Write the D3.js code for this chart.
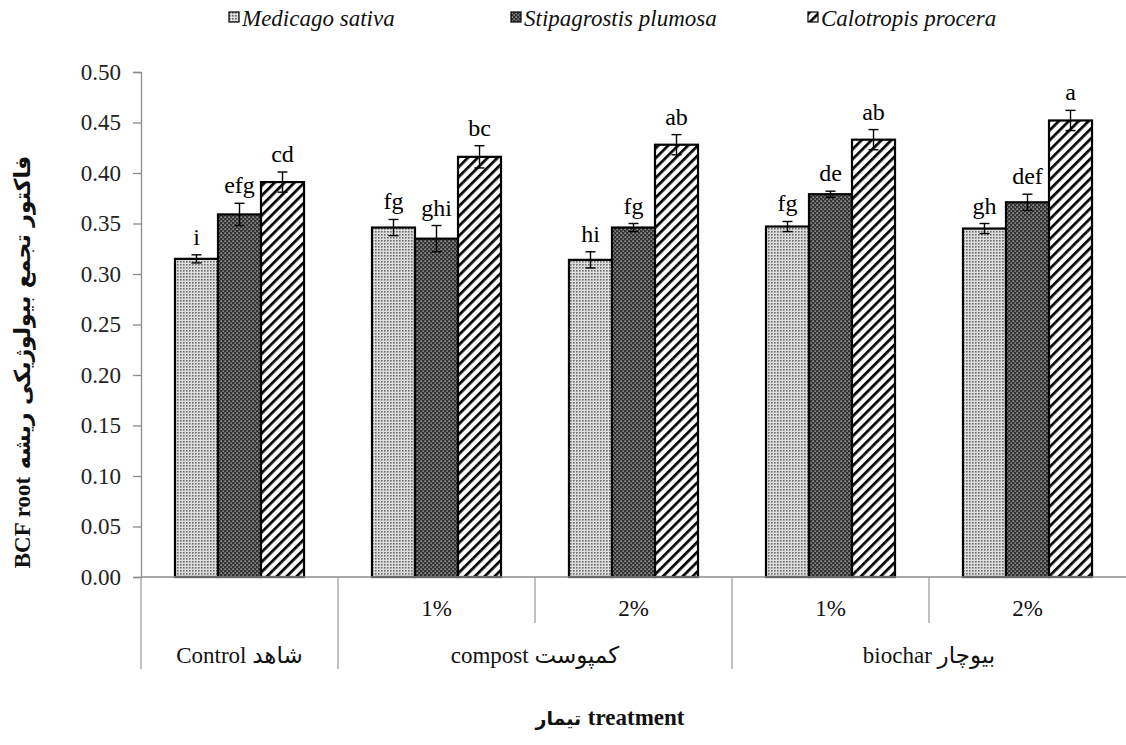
<!DOCTYPE html>
<html>
<head>
<meta charset="utf-8">
<script src="https://cdn.jsdelivr.net/npm/d3@7"></script>
<style>
body{margin:0;background:#fff;}
svg text{font-family:"Liberation Serif","DejaVu Serif","DejaVu Sans",serif;}
</style>
</head>
<body>
<svg id="chart" width="1126" height="745"></svg>
<script>
// ---- data ----
const series = ["Medicago sativa", "Stipagrostis plumosa", "Calotropis procera"];
const subCategories = ["Control", "compost 1%", "compost 2%", "biochar 1%", "biochar 2%"];
const subLabels = ["", "1%", "2%", "1%", "2%"];
const groupLabels = ["Control شاهد", "compost کمپوست", "biochar  بیوچار"];
const groupSpans = [1, 2, 2];
const medicago = [0.315, 0.346, 0.314, 0.347, 0.345];
const stipagrostis = [0.359, 0.335, 0.346, 0.379, 0.371];
const calotropis = [0.391, 0.416, 0.428, 0.433, 0.452];
const medicagoErr = [0.004, 0.008, 0.008, 0.005, 0.005];
const stipagrostisErr = [0.011, 0.013, 0.004, 0.003, 0.008];
const calotropisErr = [0.010, 0.011, 0.010, 0.010, 0.010];
const medicagoLetters = ["i", "fg", "hi", "fg", "gh"];
const stipagrostisLetters = ["efg", "ghi", "fg", "de", "def"];
const calotropisLetters = ["cd", "bc", "ab", "ab", "a"];
const yTicks = [0, 0.05, 0.10, 0.15, 0.20, 0.25, 0.30, 0.35, 0.40, 0.45, 0.50];
const yTitleLatin = "BCF root";
const yTitlePersian = " فاکتور تجمع بیولوژیکی ریشه";
const xTitlePersian = "تیمار ";
const xTitleLatin = "treatment";

const values = [medicago, stipagrostis, calotropis];
const errors = [medicagoErr, stipagrostisErr, calotropisErr];
const letters = [medicagoLetters, stipagrostisLetters, calotropisLetters];

// ---- layout ----
const svg = d3.select("#chart");
const plotL = 141, plotR = 1126, plotT = 72, plotB = 577;
const serif = "'Liberation Serif', 'DejaVu Serif', serif";
const y = d3.scaleLinear().domain([0, 0.5]).range([plotB, plotT]);
const x0 = d3.scaleBand().domain(subCategories).range([plotL, plotR]).paddingInner(0).paddingOuter(0);
const x1 = d3.scaleBand().domain(series).range([0, x0.bandwidth()]).paddingInner(0).paddingOuter(0.79);

// ---- patterns ----
const defs = svg.append("defs");
const p1 = defs.append("pattern").attr("id", "pMed").attr("patternUnits", "userSpaceOnUse").attr("width", 3).attr("height", 3);
p1.append("rect").attr("width", 3).attr("height", 3).attr("fill", "#dedede");
p1.append("rect").attr("x", 0).attr("y", 0).attr("width", 1.6).attr("height", 1.6).attr("fill", "#6a6a6a");
const p2 = defs.append("pattern").attr("id", "pStip").attr("patternUnits", "userSpaceOnUse").attr("width", 4).attr("height", 4);
p2.append("rect").attr("width", 4).attr("height", 4).attr("fill", "#333");
p2.append("rect").attr("x", 0.5).attr("y", 0.5).attr("width", 1.3).attr("height", 1.3).attr("fill", "#cfcfcf");
p2.append("rect").attr("x", 2.5).attr("y", 2.5).attr("width", 1.3).attr("height", 1.3).attr("fill", "#b0b0b0");
const p3 = defs.append("pattern").attr("id", "pCalo").attr("patternUnits", "userSpaceOnUse").attr("width", 7).attr("height", 7).attr("patternTransform", "rotate(45)");
p3.append("rect").attr("width", 7).attr("height", 7).attr("fill", "#fff");
p3.append("rect").attr("x", 0).attr("y", 0).attr("width", 2.7).attr("height", 7).attr("fill", "#000");
const fills = ["url(#pMed)", "url(#pStip)", "url(#pCalo)"];

// ---- y axis ----
const yAxis = d3.axisLeft(y).tickValues(yTicks).tickFormat(d3.format(".2f")).tickSize(8).tickPadding(12);
const ga = svg.append("g").attr("transform", `translate(${plotL},0)`).call(yAxis)
  .attr("font-family", serif).attr("font-size", 23);
ga.select(".domain").attr("stroke", "#8c8c8c").attr("stroke-width", 1.3);
ga.selectAll(".tick line").attr("stroke", "#8c8c8c").attr("stroke-width", 1.3);
ga.selectAll(".tick text").attr("fill", "#222");

// ---- bars ----
const gBars = svg.append("g");
series.forEach((s, si) => {
  subCategories.forEach((c, ci) => {
    const v = values[si][ci];
    const bx = x0(c) + x1(s);
    gBars.append("rect")
      .attr("x", bx).attr("y", y(v))
      .attr("width", x1.bandwidth()).attr("height", y(0) - y(v))
      .attr("fill", fills[si]).attr("stroke", "#000").attr("stroke-width", 2.2);
  });
});
// error bars and letters
series.forEach((s, si) => {
  subCategories.forEach((c, ci) => {
    const v = values[si][ci], e = errors[si][ci];
    const cx = x0(c) + x1(s) + x1.bandwidth() / 2;
    const g = svg.append("g").attr("stroke", "#000").attr("stroke-width", 1.4);
    g.append("line").attr("x1", cx).attr("x2", cx).attr("y1", y(v + e)).attr("y2", y(v - e));
    g.append("line").attr("x1", cx - 5).attr("x2", cx + 5).attr("y1", y(v + e)).attr("y2", y(v + e));
    g.append("line").attr("x1", cx - 5).attr("x2", cx + 5).attr("y1", y(v - e)).attr("y2", y(v - e));
    svg.append("text").attr("x", cx).attr("y", y(v + e) - 10)
      .attr("text-anchor", "middle").attr("font-size", 24).attr("fill", "#000")
      .text(letters[si][ci]);
  });
});

// ---- x axis ----
svg.append("line").attr("x1", plotL).attr("x2", plotR).attr("y1", plotB).attr("y2", plotB)
  .attr("stroke", "#8c8c8c").attr("stroke-width", 1.3);
subCategories.forEach((c, ci) => {
  svg.append("text").attr("x", x0(c) + x0.bandwidth() / 2).attr("y", 616)
    .attr("text-anchor", "middle").attr("font-size", 23).attr("fill", "#111").text(subLabels[ci]);
});
const gSep = svg.append("g").attr("stroke", "#a0a0a0").attr("stroke-width", 1.3);
let idx = 0;
const longEdges = [x0(subCategories[0])];
groupSpans.forEach((span, gi) => {
  const startX = x0(subCategories[idx]);
  const endX = x0(subCategories[idx + span - 1]) + x0.bandwidth();
  for (let k = 1; k < span; k++) {
    const sx = x0(subCategories[idx + k]);
    gSep.append("line").attr("x1", sx).attr("x2", sx).attr("y1", plotB).attr("y2", 623);
  }
  longEdges.push(endX);
  svg.append("text").attr("x", (startX + endX) / 2).attr("y", 663)
    .attr("text-anchor", "middle").attr("font-size", 23).attr("fill", "#111")
    .text(groupLabels[gi]);
  idx += span;
});
longEdges.forEach(ex => {
  if (ex < plotR - 1) gSep.append("line").attr("x1", ex).attr("x2", ex).attr("y1", plotB).attr("y2", 669);
});

// ---- axis titles ----
const xt = svg.append("text").attr("x", 610).attr("y", 725).attr("text-anchor", "middle")
  .attr("font-size", 23).attr("fill", "#111").attr("direction", "ltr");
xt.append("tspan").style("font-family", "'DejaVu Sans'").attr("font-size", 19).attr("font-weight", "bold").text(xTitlePersian);
xt.append("tspan").attr("font-weight", "bold").text(xTitleLatin);

const yt = svg.append("text").attr("transform", "translate(30,362) rotate(-90)").attr("text-anchor", "middle")
  .attr("font-size", 23).attr("fill", "#111");
yt.append("tspan").attr("font-weight", "bold").text(yTitleLatin);
yt.append("tspan").style("font-family", "'DejaVu Sans'").attr("font-size", 22).attr("font-weight", "bold").text(yTitlePersian);

// ---- legend ----
const legendX = [229, 511, 808];
series.forEach((s, si) => {
  const g = svg.append("g").attr("transform", `translate(${legendX[si]},12)`);
  g.append("rect").attr("width", 10).attr("height", 10).attr("fill", fills[si]).attr("stroke", "#000").attr("stroke-width", 1.2);
  g.append("text").attr("x", 13).attr("y", 14).attr("font-size", 23).attr("font-style", "italic").attr("fill", "#111").text(s);
});
</script>
</body>
</html>
